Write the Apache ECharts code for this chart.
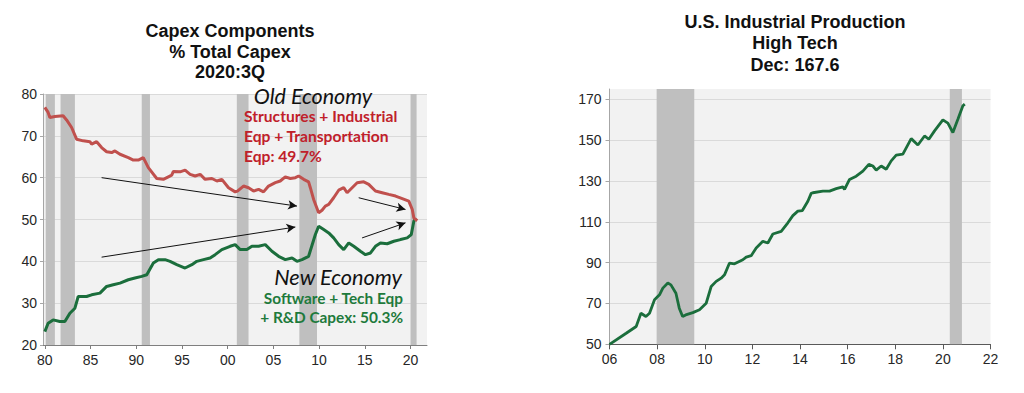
<!DOCTYPE html>
<html>
<head>
<meta charset="utf-8">
<script src="https://cdn.jsdelivr.net/npm/echarts@6/dist/echarts.min.js"></script>
<style>
html,body{margin:0;padding:0;background:#fff;}
#chart{width:1024px;height:393px;}
</style>
</head>
<body>
<div id="chart"></div>
<script>
// ---- Left chart: Capex components (% of total capex) ----
const oldYears = [1980.0,1980.36,1980.55,1981.1,1982.0,1982.38,1982.93,1983.47,1984.2,1984.93,1985.12,1985.67,1986.21,1986.76,1987.31,1987.67,1988.22,1989.13,1989.68,1990.22,1990.77,1991.32,1992.24,1992.96,1993.51,1993.88,1994.06,1994.79,1995.34,1995.89,1996.44,1996.99,1997.53,1998.27,1998.82,1999.36,2000.09,2000.82,2001.07,2001.73,2002.28,2002.83,2003.38,2003.92,2004.47,2005.21,2005.75,2006.3,2006.85,2007.4,2007.76,2008.31,2008.85,2009.04,2009.4,2009.95,2010.32,2010.68,2011.05,2011.59,2012.14,2012.69,2013.06,2013.61,2014.16,2014.88,2015.43,2016.16,2016.9,2017.62,2018.36,2019.09,2019.81,2020.19,2020.36,2020.73];
const oldEconomy = [76.8,75.6,74.4,74.6,74.8,73.8,72.0,69.2,68.8,68.6,68.0,68.6,67.2,66.2,66.0,66.4,65.6,64.8,64.2,64.2,64.8,62.4,59.8,59.6,60.2,60.6,61.5,61.4,61.8,60.8,60.4,60.8,59.6,59.8,59.2,59.6,57.6,56.6,56.8,58.0,57.6,56.8,57.2,56.6,58.0,58.8,59.2,60.2,59.8,60.0,60.4,59.6,59.0,57.6,54.8,51.6,52.2,53.2,53.6,55.2,57.0,57.6,56.4,57.6,58.8,59.0,58.4,56.8,56.4,56.0,55.6,55.0,54.4,52.4,50.4,49.7];
const newYears = [1980.0,1980.36,1980.91,1981.64,1982.19,1982.74,1983.29,1983.65,1984.57,1985.12,1986.03,1986.76,1987.48,1988.22,1989.13,1989.86,1990.6,1991.15,1991.87,1992.42,1993.15,1993.7,1994.43,1995.34,1996.08,1996.62,1997.35,1998.08,1998.63,1999.36,2000.27,2000.82,2001.37,2002.1,2002.65,2003.38,2004.11,2004.84,2005.57,2006.3,2007.04,2007.58,2008.13,2008.85,2009.59,2009.95,2010.5,2011.05,2011.59,2012.14,2012.69,2013.24,2013.79,2014.52,2015.07,2015.62,2016.16,2016.71,2017.45,2018.17,2018.9,2019.64,2020.08,2020.36,2020.55];
const newEconomy = [23.2,25.2,26.0,25.6,25.6,27.6,28.8,31.6,31.6,32.0,32.4,34.0,34.4,34.8,35.6,36.0,36.4,36.8,39.6,40.4,40.4,40.0,39.2,38.4,39.2,40.0,40.4,40.8,41.6,42.8,43.6,44.0,42.8,42.8,43.6,43.6,44.0,42.4,41.2,40.4,40.8,40.0,40.4,41.2,46.4,48.4,47.6,46.8,45.6,44.0,42.8,44.4,43.6,42.4,41.6,42.0,43.6,44.4,44.2,44.8,45.2,45.6,46.4,49.6,50.3];
const capexRecessions = [[1980.1,1981.1],[1981.72,1983.29],[1990.6,1991.5],[2001.0,2002.28],[2007.84,2009.77],[2020.0,2020.66]];
const capexXTicks = [1980,1985,1990,1995,2000,2005,2010,2015,2020];
// annotation arrows: [fromYear, fromValue, toYear, toValue]
const capexArrows = [[1986.21,60.0,2007.58,53.2],[1986.21,41.0,2007.4,48.2],[2014.33,55.2,2019.45,52.4],[2014.7,45.6,2019.45,49.2]];

// ---- Right chart: US Industrial Production, High Tech ----
const ipYears = [2006.0,2006.7,2007.12,2007.32,2007.53,2007.68,2007.89,2008.1,2008.24,2008.45,2008.58,2008.79,2008.93,2009.07,2009.2,2009.5,2009.78,2010.06,2010.27,2010.48,2010.69,2010.83,2011.04,2011.25,2011.6,2011.74,2011.95,2012.16,2012.44,2012.65,2012.86,2013.21,2013.49,2013.7,2013.91,2014.1,2014.33,2014.47,2014.54,2014.96,2015.24,2015.52,2015.8,2015.87,2016.08,2016.36,2016.64,2016.89,2017.06,2017.2,2017.41,2017.62,2017.83,2018.04,2018.32,2018.67,2018.95,2019.23,2019.41,2019.65,2020.0,2020.21,2020.42,2020.63,2020.84,2020.92];
const ipHighTech = [50,55.4,58.7,65.2,63.6,65.2,71.8,74.2,77.5,80,79.1,75,67.7,63.6,64.4,65.5,66.9,70.1,78.3,80.8,82.4,84,89.8,89.4,91.4,92.7,93.4,97.2,100.4,99.6,104,105.3,109.5,113,115.2,115.5,120,123.9,124.2,125,125,126.2,127.1,125.8,130.7,132.3,134.8,138.1,137.3,135.3,137.3,135.7,139.8,142.6,143.1,150.7,147.6,152,150.4,154.5,159.9,158.3,153.7,160.2,166.8,167.6];
const ipRecessions = [[2007.98,2009.56],[2020.29,2020.8]];
const ipYTicks = [50,70,90,110,130,150,170];

const pairs = (xs, ys) => xs.map((x, i) => [x, ys[i]]);
const yy = v => String(Math.round(v) % 100).padStart(2, '0');

const AX = "'Liberation Sans', Arial, sans-serif";
const LATO = "Lato, 'Open Sans', sans-serif";
const labelStyle = {color: '#262626', fontSize: 14, fontFamily: AX};

const chart = echarts.init(document.getElementById('chart'), null, {renderer: 'svg'});
chart.setOption({
  animation: false,
  backgroundColor: '#ffffff',
  grid: [
    {left: 43, top: 94, width: 384, height: 251, show: true, backgroundColor: '#f2f2f2', borderWidth: 0},
    {left: 609.5, top: 89, width: 381, height: 255.3, show: true, backgroundColor: '#f2f2f2', borderWidth: 0}
  ],
  xAxis: [
    {gridIndex: 0, type: 'value', min: 1979.8, max: 2021.8,
     axisLine: {show: true, lineStyle: {color: '#7f7f7f', width: 1}},
     axisTick: {show: true, length: 4, customValues: capexXTicks, lineStyle: {color: '#7f7f7f'}},
     axisLabel: Object.assign({margin: 8, customValues: capexXTicks, formatter: yy}, labelStyle),
     splitLine: {show: false}},
    {gridIndex: 1, type: 'value', min: 2006, max: 2022, interval: 2,
     axisLine: {show: true, lineStyle: {color: '#595959', width: 1}},
     axisTick: {show: true, length: 5, lineStyle: {color: '#595959'}},
     axisLabel: Object.assign({margin: 8, formatter: yy}, labelStyle),
     splitLine: {show: false}}
  ],
  yAxis: [
    {gridIndex: 0, type: 'value', min: 20, max: 80, interval: 10,
     axisLine: {show: true, lineStyle: {color: '#a6a6a6'}},
     axisTick: {show: true, length: 3, lineStyle: {color: '#a6a6a6'}},
     axisLabel: Object.assign({margin: 6}, labelStyle),
     splitLine: {show: true, lineStyle: {color: '#dadada', width: 1}}},
    {gridIndex: 1, type: 'value', min: 50, max: 175,
     axisLine: {show: true, lineStyle: {color: '#a6a6a6'}},
     axisTick: {show: true, length: 4, customValues: ipYTicks, lineStyle: {color: '#a6a6a6'}},
     axisLabel: Object.assign({margin: 8, customValues: ipYTicks}, labelStyle),
     splitLine: {show: true, lineStyle: {color: '#dadada', width: 1}}}
  ],
  series: [
    {type: 'line', xAxisIndex: 0, yAxisIndex: 0, data: [], z: 1, silent: true,
     markArea: {silent: true, itemStyle: {color: '#bfbfbf', opacity: 1},
       data: capexRecessions.map(r => [{xAxis: r[0]}, {xAxis: r[1]}])}},
    {type: 'line', xAxisIndex: 1, yAxisIndex: 1, data: [], z: 1, silent: true,
     markArea: {silent: true, itemStyle: {color: '#bfbfbf', opacity: 1},
       data: ipRecessions.map(r => [{xAxis: r[0]}, {xAxis: r[1]}])}},
    {name: 'New Economy', type: 'line', xAxisIndex: 0, yAxisIndex: 0, z: 3,
     data: pairs(newYears, newEconomy), showSymbol: false, smooth: false,
     lineStyle: {color: '#1b6e3c', width: 3}, itemStyle: {color: '#1b6e3c'}},
    {name: 'Old Economy', type: 'line', xAxisIndex: 0, yAxisIndex: 0, z: 4,
     data: pairs(oldYears, oldEconomy), showSymbol: false, smooth: false,
     lineStyle: {color: '#c0504d', width: 3}, itemStyle: {color: '#c0504d'},
     markLine: {silent: true, symbol: ['none', 'arrow'], symbolSize: [7, 9], label: {show: false},
       lineStyle: {color: '#111111', width: 1, type: 'solid'},
       data: capexArrows.map(a => [{coord: [a[0], a[1]]}, {coord: [a[2], a[3]]}])}},
    {name: 'High Tech', type: 'line', xAxisIndex: 1, yAxisIndex: 1, z: 3,
     data: pairs(ipYears, ipHighTech), showSymbol: false, smooth: false,
     lineStyle: {color: '#1b6e3c', width: 2.8}, itemStyle: {color: '#1b6e3c'}}
  ],
  graphic: [
    {type: 'text', x: 230, y: 51.5, style: {text: 'Capex Components\n% Total Capex\n2020:3Q', align: 'center', verticalAlign: 'middle', font: "bold 18px 'Liberation Sans', Arial, sans-serif", lineHeight: 20.5, fill: '#111'}},
    {type: 'text', x: 795, y: 43.3, style: {text: 'U.S. Industrial Production\nHigh Tech\nDec: 167.6', align: 'center', verticalAlign: 'middle', font: "bold 18px 'Liberation Sans', Arial, sans-serif", lineHeight: 21.7, fill: '#111'}},
    {type: 'text', x: 313, y: 95.5, z: 10, style: {text: 'Old Economy', align: 'center', verticalAlign: 'middle', font: "italic 21.5px " + LATO, lineHeight: 19, fill: '#111'}},
    {type: 'text', x: 244, y: 136, z: 10, style: {text: 'Structures + Industrial\nEqp + Transportation\nEqp: 49.7%', align: 'left', verticalAlign: 'middle', font: "bold 15.6px " + LATO, lineHeight: 20, fill: '#c0202a'}},
    {type: 'text', x: 402, y: 276.7, z: 10, style: {text: 'New Economy', align: 'right', verticalAlign: 'middle', font: "italic 21.7px " + LATO, lineHeight: 19, fill: '#111'}},
    {type: 'text', x: 403, y: 307.5, z: 10, style: {text: 'Software + Tech Eqp\n+ R&D Capex: 50.3%', align: 'right', verticalAlign: 'middle', font: "bold 15.4px " + LATO, lineHeight: 19.5, fill: '#1e7a3c'}}
  ]
});
</script>
</body>
</html>
